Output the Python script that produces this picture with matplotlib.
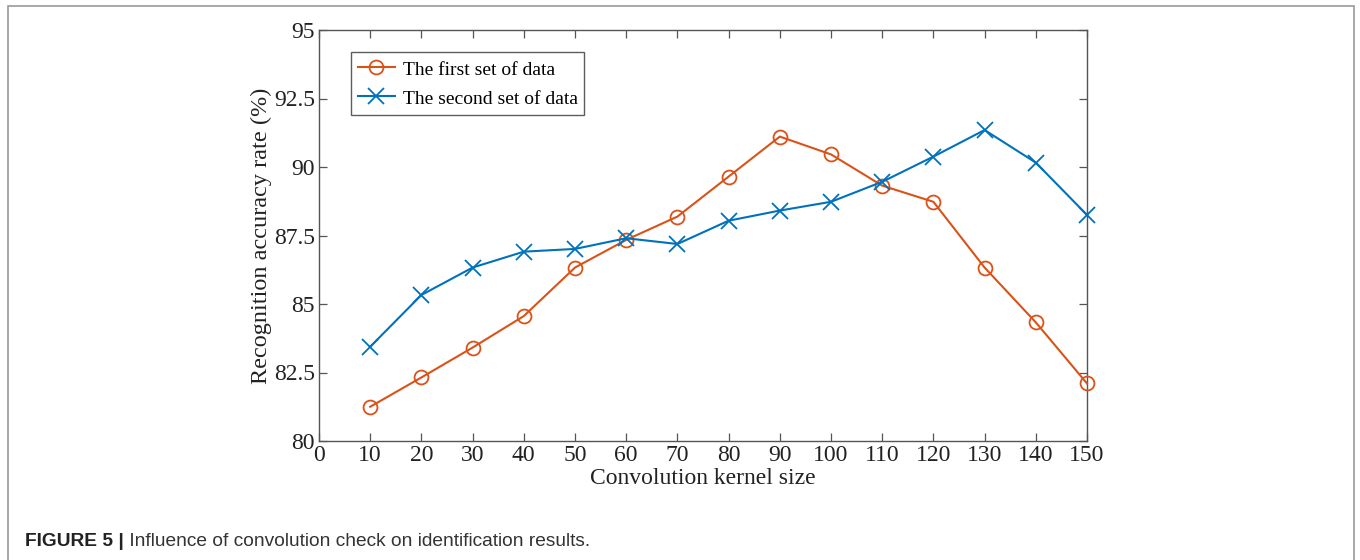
import matplotlib
matplotlib.use("Agg")
import matplotlib.pyplot as plt
from matplotlib.patches import Rectangle

kernel_sizes = [10, 20, 30, 40, 50, 60, 70, 80, 90, 100, 110, 120, 130, 140, 150]
first_set = [81.25, 82.32, 83.41, 84.56, 86.33, 87.34, 88.19, 89.65, 91.11, 90.46,
             89.32, 88.73, 86.33, 84.33, 82.10]
second_set = [83.44, 85.33, 86.33, 86.91, 87.01, 87.40, 87.19, 88.04, 88.41, 88.73,
              89.46, 90.38, 91.35, 90.16, 88.25]
x_ticks = list(range(0, 151, 10))
y_ticks = [80, 82.5, 85, 87.5, 90, 92.5, 95]
y_tick_labels = ["80", "82.5", "85", "87.5", "90", "92.5", "95"]
series_labels = ["The first set of data", "The second set of data"]
x_label = "Convolution kernel size"
y_label = "Recognition accuracy rate (%)"
caption_bold = "FIGURE 5 |"
caption_text = " Influence of convolution check on identification results."

W, H = 1360, 560
fig = plt.figure(figsize=(W / 100, H / 100), dpi=100)
serif = ["Liberation Serif", "DejaVu Serif"]

# outer frame
fig.patches.append(Rectangle((8 / W, -0.02), (1354 - 8) / W, 1 - 6 / H + 0.02,
                             transform=fig.transFigure, fill=False,
                             edgecolor="#9a9a9a", linewidth=1.2))

ax = fig.add_axes([319 / W, 1 - 441 / H, (1087 - 319) / W, (441 - 30) / H])
orange = "#D95319"
blue = "#0072BD"
ax.plot(kernel_sizes, first_set, color=orange, marker="o", markersize=10,
        markerfacecolor="none", markeredgewidth=1.3, linewidth=1.5,
        label=series_labels[0], clip_on=False, zorder=3)
ax.plot(kernel_sizes, second_set, color=blue, marker="x", markersize=12,
        markeredgewidth=1.3, linewidth=1.5, label=series_labels[1],
        clip_on=False, zorder=3)

ax.set_xlim(0, 150)
ax.set_ylim(80, 95)
ax.set_xticks(x_ticks)
ax.set_yticks(y_ticks)
ax.set_yticklabels(y_tick_labels)
for lab in ax.get_xticklabels() + ax.get_yticklabels():
    lab.set_family(serif)
    lab.set_fontsize(17)
    lab.set_color("#222222")
ax.tick_params(direction="in", length=6, width=0.9, color="#555555",
               top=True, right=True)
ax.tick_params(axis="x", pad=3)
ax.tick_params(axis="y", pad=3)
for s in ax.spines.values():
    s.set_color("#555555")
    s.set_linewidth(1.0)

ax.set_xlabel(x_label, family=serif, fontsize=17, labelpad=1, color="#222222")
ax.set_ylabel(y_label, family=serif, fontsize=17.5, labelpad=1, color="#222222")

leg = ax.legend(loc="upper left", bbox_to_anchor=(32 / 768, 1 - 22 / 411),
                prop={"family": serif, "size": 14}, frameon=True, fancybox=False,
                borderpad=0.35, handlelength=1.9, handleheight=1.15,
                labelspacing=0.45, handletextpad=0.4, borderaxespad=0)
leg.get_frame().set_edgecolor("#333333")
leg.get_frame().set_linewidth(1.0)

caption_family = ["Liberation Sans Narrow", "Liberation Sans", "DejaVu Sans"]
t1 = fig.text(25 / W, 1 - 542 / H, caption_bold, family=caption_family,
              fontsize=13.8, fontweight="bold", va="center", ha="left",
              color="#222222")
fig.canvas.draw()
bb = t1.get_window_extent()
fig.text(bb.x1 / W, 1 - 542 / H, caption_text, family=caption_family,
         fontsize=13.8, va="center", ha="left", color="#333333")

fig.savefig("out.png", dpi=100)
